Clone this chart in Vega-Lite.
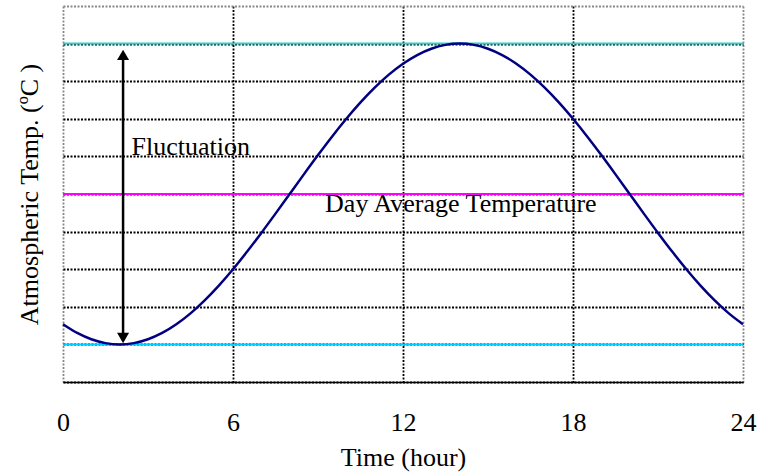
{
  "$schema": "https://vega.github.io/schema/vega-lite/v6.json",
  "width": 680,
  "height": 376,
  "autosize": "none",
  "padding": {"left": 63, "top": 6, "right": 15, "bottom": 92},
  "background": "white",
  "config": {
    "view": {"stroke": null},
    "font": "Liberation Serif"
  },
  "datasets": {
    "curve": [
      {"hour": 0, "temp": 1.536}, {"hour": 0.5, "temp": 1.304}, {"hour": 1, "temp": 1.136}, {"hour": 1.5, "temp": 1.034},
      {"hour": 2, "temp": 1.0}, {"hour": 2.5, "temp": 1.034}, {"hour": 3, "temp": 1.136}, {"hour": 3.5, "temp": 1.304},
      {"hour": 4, "temp": 1.536}, {"hour": 4.5, "temp": 1.826}, {"hour": 5, "temp": 2.172}, {"hour": 5.5, "temp": 2.565},
      {"hour": 6, "temp": 3.0}, {"hour": 6.5, "temp": 3.469}, {"hour": 7, "temp": 3.965}, {"hour": 7.5, "temp": 4.478},
      {"hour": 8, "temp": 5.0}, {"hour": 8.5, "temp": 5.522}, {"hour": 9, "temp": 6.035}, {"hour": 9.5, "temp": 6.531},
      {"hour": 10, "temp": 7.0}, {"hour": 10.5, "temp": 7.435}, {"hour": 11, "temp": 7.828}, {"hour": 11.5, "temp": 8.174},
      {"hour": 12, "temp": 8.464}, {"hour": 12.5, "temp": 8.696}, {"hour": 13, "temp": 8.864}, {"hour": 13.5, "temp": 8.966},
      {"hour": 14, "temp": 9.0}, {"hour": 14.5, "temp": 8.966}, {"hour": 15, "temp": 8.864}, {"hour": 15.5, "temp": 8.696},
      {"hour": 16, "temp": 8.464}, {"hour": 16.5, "temp": 8.174}, {"hour": 17, "temp": 7.828}, {"hour": 17.5, "temp": 7.435},
      {"hour": 18, "temp": 7.0}, {"hour": 18.5, "temp": 6.531}, {"hour": 19, "temp": 6.035}, {"hour": 19.5, "temp": 5.522},
      {"hour": 20, "temp": 5.0}, {"hour": 20.5, "temp": 4.478}, {"hour": 21, "temp": 3.965}, {"hour": 21.5, "temp": 3.469},
      {"hour": 22, "temp": 3.0}, {"hour": 22.5, "temp": 2.565}, {"hour": 23, "temp": 2.172}, {"hour": 23.5, "temp": 1.826},
      {"hour": 24, "temp": 1.536}
    ],
    "levels": [
      {"level": "Maximum", "temp": 9},
      {"level": "Day Average", "temp": 5},
      {"level": "Minimum", "temp": 1}
    ],
    "arrow": [
      {"hour": 2.12, "low": 1.2, "high": 8.7}
    ],
    "heads": [
      {"hour": 2.12, "temp": 8.7, "end": "top"},
      {"hour": 2.12, "temp": 1.17, "end": "bottom"}
    ],
    "labels": [
      {"hour": 2.42, "temp": 6.05, "text": "Fluctuation"},
      {"hour": 9.25, "temp": 4.51, "text": "Day Average Temperature"}
    ]
  },
  "layer": [
    {
      "data": {"name": "levels"},
      "mark": {"type": "rule", "strokeWidth": 2},
      "encoding": {
        "y": {
          "field": "temp", "type": "quantitative",
          "scale": {"domain": [0, 10], "nice": false, "zero": false},
          "axis": {
            "orient": "left",
            "values": [0, 1, 2, 3, 4, 5, 6, 7, 8, 9, 10],
            "tickCount": 30,
            "labels": false, "ticks": false, "domain": false,
            "grid": true,
            "gridColor": {"condition": {"test": "datum.value === 10", "value": "#888888"}, "value": "#000000"},
            "gridDash": [2, 1.5], "gridWidth": 1.8,
            "title": "Atmospheric Temp. (ºC )",
            "titleFont": "Liberation Serif", "titleFontSize": 26, "titleFontWeight": "normal",
            "titleColor": "#000000",
            "titleX": -26, "titleY": 188, "titleAngle": -90,
            "titleAlign": "center", "titleBaseline": "alphabetic"
          }
        },
        "color": {
          "field": "level", "type": "nominal",
          "scale": {"domain": ["Maximum", "Day Average", "Minimum"], "range": ["#33CCCC", "#FF00FF", "#00CCFF"]},
          "legend": null
        }
      }
    },
    {
      "data": {"name": "curve"},
      "mark": {"type": "line", "color": "#000080", "strokeWidth": 2.5, "interpolate": "monotone"},
      "encoding": {
        "x": {
          "field": "hour", "type": "quantitative",
          "scale": {"domain": [0, 24], "nice": false, "zero": false},
          "axis": {
            "orient": "bottom",
            "values": [0, 6, 12, 18, 24],
            "tickCount": 30,
            "ticks": false,
            "domain": true, "domainColor": "#000000", "domainWidth": 1.5,
            "grid": true,
            "gridColor": {"condition": {"test": "datum.value === 0 || datum.value === 24", "value": "#888888"}, "value": "#000000"},
            "gridDash": [2, 1.5], "gridWidth": 1.8,
            "labelFont": "Liberation Serif", "labelFontSize": 26, "labelColor": "#000000",
            "labelPadding": 27, "labelFlush": false, "labelOverlap": false,
            "title": "Time (hour)",
            "titleFont": "Liberation Serif", "titleFontSize": 26, "titleFontWeight": "normal",
            "titleColor": "#000000",
            "titleY": 83, "titleBaseline": "alphabetic"
          }
        },
        "y": {
          "field": "temp", "type": "quantitative",
          "axis": {
            "orient": "left",
            "values": [0, 1, 2, 3, 4, 5, 6, 7, 8, 9, 10],
            "tickCount": 30,
            "labels": false, "ticks": false, "domain": false,
            "grid": true,
            "gridColor": {"condition": {"test": "datum.value === 10", "value": "#888888"}, "value": "#000000"},
            "gridDash": [2, 1.5], "gridWidth": 1.8,
            "title": "Atmospheric Temp. (ºC )",
            "titleFont": "Liberation Serif", "titleFontSize": 26, "titleFontWeight": "normal",
            "titleColor": "#000000",
            "titleX": -26, "titleY": 188, "titleAngle": -90,
            "titleAlign": "center", "titleBaseline": "alphabetic"
          }
        }
      }
    },
    {
      "data": {"name": "arrow"},
      "mark": {"type": "rule", "color": "#000000", "strokeWidth": 2.5},
      "encoding": {
        "x": {"field": "hour", "type": "quantitative"},
        "y": {"field": "low", "type": "quantitative"},
        "y2": {"field": "high"}
      }
    },
    {
      "data": {"name": "heads"},
      "mark": {"type": "point", "filled": true, "color": "#000000", "size": 144, "opacity": 1},
      "encoding": {
        "x": {"field": "hour", "type": "quantitative"},
        "y": {"field": "temp", "type": "quantitative"},
        "shape": {
          "field": "end", "type": "nominal",
          "scale": {"domain": ["top", "bottom"], "range": ["triangle-up", "triangle-down"]},
          "legend": null
        }
      }
    },
    {
      "data": {"name": "labels"},
      "mark": {"type": "text", "font": "Liberation Serif", "fontSize": 26, "align": "left", "baseline": "alphabetic", "color": "#000000"},
      "encoding": {
        "x": {"field": "hour", "type": "quantitative"},
        "y": {"field": "temp", "type": "quantitative"},
        "text": {"field": "text"}
      }
    }
  ]
}
